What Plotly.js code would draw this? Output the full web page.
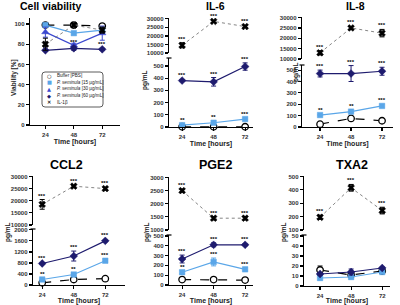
<!DOCTYPE html>
<html><head><meta charset="utf-8">
<script src="https://cdn.plot.ly/plotly-3.0.1.min.js"></script>
<style>html,body{margin:0;padding:0;background:#fff}#chart{width:400px;height:305px}</style>
</head><body><div id="chart"></div>
<script>
// ---------- DATA ----------
const times = [24, 48, 72];
const timeLabels = ['24', '48', '72'];
const seriesNames = ['Buffer [PBS]', 'P. seminula [15 µg/mL]', 'P. seminula [30 µg/mL]', 'P. seminula [60 µg/mL]', 'IL-1β'];

// Cell viability [%]
const viabBuffer = [99, 99, 98];
const viab15 = [99, 91, 94];
const viab30 = [92, 79, 91];
const viab30Err = [5, 2, 7];
const viab60 = [74, 76, 75];
const viab60Err = [1, 2, 1];
const viabIL1b = [80, 99, 94];
const viabIL1bErr = [6, 2, 3];
const viabSig60 = ['', '***', '***'];

// IL-6 [pg/mL]
const il6Buffer = [2, 2, 2];
const il6_15 = [15, 35, 65];
const il6_15Err = [3, 5, 8];
const il6_60 = [380, 370, 495];
const il6_60Err = [8, 35, 30];
const il6IL1b = [14500, 28500, 25500];
const il6IL1bErr = [1500, 600, 500];
const il6Sig15 = ['**', '**', '***'];
const il6Sig60 = ['***', '***', '***'];
const il6SigIL1b = ['***', '***', '***'];

// IL-8 [pg/mL]
const il8Buffer = [25, 75, 55];
const il8_15 = [105, 135, 185];
const il8_15Err = [5, 8, 10];
const il8_60 = [470, 470, 490];
const il8_60Err = [30, 70, 35];
const il8IL1b = [13000, 25000, 22500];
const il8IL1bErr = [1000, 700, 1800];
const il8Sig15 = ['**', '**', '***'];
const il8Sig60 = ['***', '***', '***'];
const il8SigIL1b = ['***', '***', '***'];

// CCL2 [pg/mL]
const ccl2Buffer = [80, 200, 230];
const ccl2_15 = [200, 380, 880];
const ccl2_15Err = [20, 30, 30];
const ccl2_60 = [780, 1050, 1600];
const ccl2_60Err = [30, 180, 30];
const ccl2IL1b = [18500, 26000, 25000];
const ccl2IL1bErr = [2000, 400, 600];
const ccl2Sig15 = ['**', '**', '***'];
const ccl2Sig60 = ['***', '***', '***'];
const ccl2SigIL1b = ['***', '***', '***'];

// PGE2 [pg/mL]
const pge2Buffer = [55, 55, 50];
const pge2_15 = [130, 235, 160];
const pge2_15Err = [15, 40, 15];
const pge2_60 = [265, 410, 410];
const pge2_60Err = [40, 20, 10];
const pge2IL1b = [2500, 1450, 1450];
const pge2IL1bErr = [60, 60, 60];
const pge2Sig15 = ['**', '***', '***'];
const pge2Sig60 = ['***', '***', '***'];
const pge2SigIL1b = ['***', '***', '***'];

// TXA2 [pg/mL]
const txa2Buffer = [16, 11, 15];
const txa2BufferErr = [4, 1, 1];
const txa2_15 = [8, 9, 14];
const txa2_15Err = [2, 2, 1];
const txa2_60 = [12, 14, 18];
const txa2_60Err = [1, 3, 1];
const txa2IL1b = [195, 415, 245];
const txa2IL1bErr = [15, 25, 25];
const txa2SigIL1b = ['***', '***', '***'];

// ---------- STYLE ----------
const W = 400, H = 305;
const FONT = 'Liberation Sans, Arial, sans-serif';
const styles = {
  buffer: {name: seriesNames[0], color: '#000000', fill: '#ffffff', symbol: 'circle', size: 6.5, dash: 'dash', lw: 1.2, lc: '#000000'},
  c15:    {name: seriesNames[1], color: '#5AA6E8', fill: '#5AA6E8', symbol: 'square', size: 5.5, dash: 'solid', lw: 1.2, lc: '#5AA6E8'},
  c30:    {name: seriesNames[2], color: '#3B48CF', fill: '#3B48CF', symbol: 'triangle-up', size: 6.5, dash: 'solid', lw: 1.2, lc: '#3B48CF'},
  c60:    {name: seriesNames[3], color: '#1E1B6E', fill: '#1E1B6E', symbol: 'diamond', size: 6, dash: 'solid', lw: 1.2, lc: '#1E1B6E'},
  il1b:   {name: seriesNames[4], color: '#000000', fill: '#000000', symbol: 'x', size: 6, dash: 'dot', lw: 0.9, lc: '#777777'}
};

const panels = [
  {title: 'Cell viability', tsize: 10.5, tx: 50, ty: 6.5, ytitle: 'Viability [%]', ytx: 14, yty: 78, xdom: [30, 120], xr: [11, 87],
   low: {dom: [18, 125], r: [0, 106], dtick: 20}, up: null,
   series: [['buffer', viabBuffer, null, null], ['c15', viab15, null, null], ['c30', viab30, viab30Err, null], ['c60', viab60, viab60Err, viabSig60], ['il1b', viabIL1b, viabIL1bErr, null]]},
  {title: 'IL-6', tsize: 10.5, tx: 215, ty: 6, ytitle: 'pg/mL', ytx: 145, yty: 80, xdom: [169, 253], xr: [14, 78],
   low: {dom: [58, 127], r: [0, 565], dtick: 100}, up: {dom: [18, 53], r: [10000, 30500], dtick: 5000},
   series: [['buffer', il6Buffer, null, null], ['c15', il6_15, il6_15Err, il6Sig15], ['c60', il6_60, il6_60Err, il6Sig60], ['il1b', il6IL1b, il6IL1bErr, il6SigIL1b]]},
  {title: 'IL-8', tsize: 10.5, tx: 355, ty: 6, ytitle: 'pg/mL', ytx: 296, yty: 72, xdom: [302, 393], xr: [10, 80.5],
   low: {dom: [65, 127], r: [0, 545], dtick: 100}, up: {dom: [17, 59], r: [10000, 30300], dtick: 5000},
   series: [['buffer', il8Buffer, null, null], ['c15', il8_15, il8_15Err, il8Sig15], ['c60', il8_60, il8_60Err, il8Sig60], ['il1b', il8IL1b, il8IL1bErr, il8SigIL1b]]},
  {title: 'CCL2', tsize: 12.5, tx: 66, ty: 165, ytitle: 'pg/mL', ytx: 8, yty: 232, xdom: [33, 125], xr: [17, 87],
   low: {dom: [229, 285], r: [0, 2030], dtick: 400}, up: {dom: [176, 225], r: [10000, 30200], dtick: 5000},
   series: [['buffer', ccl2Buffer, null, null], ['c15', ccl2_15, ccl2_15Err, ccl2Sig15], ['c60', ccl2_60, ccl2_60Err, ccl2Sig60], ['il1b', ccl2IL1b, ccl2IL1bErr, ccl2SigIL1b]]},
  {title: 'PGE2', tsize: 12.5, tx: 215, ty: 165, ytitle: 'pg/mL', ytx: 147, yty: 232, xdom: [169, 253], xr: [14, 78],
   low: {dom: [235, 285], r: [0, 510], dtick: 100}, up: {dom: [177, 230], r: [1000, 3020], dtick: 500},
   series: [['buffer', pge2Buffer, null, null], ['c15', pge2_15, pge2_15Err, pge2Sig15], ['c60', pge2_60, pge2_60Err, pge2Sig60], ['il1b', pge2IL1b, pge2IL1bErr, pge2SigIL1b]]},
  {title: 'TXA2', tsize: 12.5, tx: 352, ty: 165, ytitle: 'pg/mL', ytx: 284, yty: 232, xdom: [304, 390], xr: [11.6, 78],
   low: {dom: [235, 286], r: [0, 51], dtick: 10}, up: {dom: [176, 230], r: [100, 503], dtick: 100},
   series: [['buffer', txa2Buffer, txa2BufferErr, null], ['c15', txa2_15, txa2_15Err, null], ['c60', txa2_60, txa2_60Err, null], ['il1b', txa2IL1b, txa2IL1bErr, txa2SigIL1b]]}
];

const fx = px => px / W;
const fy = py => 1 - py / H;
const tickFont = {family: FONT, size: 6, color: '#333333', weight: 'bold'};

const layout = {
  width: W, height: H, margin: {l: 0, r: 0, t: 0, b: 0},
  paper_bgcolor: '#ffffff', plot_bgcolor: 'rgba(0,0,0,0)',
  showlegend: false, annotations: [], shapes: [], font: {family: FONT}
};
const traces = [];

function axisBase() {
  return {showline: true, linecolor: '#000000', linewidth: 1.3, ticks: 'outside', ticklen: 3, tickwidth: 1.2,
          tickcolor: '#000000', tickfont: tickFont, showgrid: false, zeroline: false, fixedrange: true};
}
function breakCap(xPx, yPx) {
  layout.shapes.push({type: 'line', xref: 'paper', yref: 'paper', x0: fx(xPx - 2.5), x1: fx(xPx + 2.5), y0: fy(yPx), y1: fy(yPx),
    line: {color: '#000', width: 1.2}});
}

let yCount = 0;
panels.forEach((p, i) => {
  const xi = i + 1;
  const xid = 'x' + xi;
  const lowIdx = ++yCount;
  const lowId = 'y' + lowIdx;
  let upId = null, upIdx = null;
  if (p.up) { upIdx = ++yCount; upId = 'y' + upIdx; }

  layout['xaxis' + xi] = Object.assign(axisBase(), {
    domain: [fx(p.xdom[0]), fx(p.xdom[1])], range: p.xr, tickvals: times, ticktext: timeLabels,
    anchor: lowId,
    title: {text: 'Time [hours]', font: {family: FONT, size: 7, color: '#222', weight: 'bold'}, standoff: 2}
  });
  layout['yaxis' + lowIdx] = Object.assign(axisBase(), {
    domain: [fy(p.low.dom[1]), fy(p.low.dom[0])], range: p.low.r, tick0: 0, dtick: p.low.dtick,
    tickformat: 'd', anchor: xid
  });
  if (p.up) {
    layout['yaxis' + upIdx] = Object.assign(axisBase(), {
      domain: [fy(p.up.dom[1]), fy(p.up.dom[0])], range: p.up.r, tick0: p.up.r[0], dtick: p.up.dtick,
      tickformat: 'd', anchor: xid
    });
    breakCap(p.xdom[0], p.low.dom[0]);
  }

  p.series.forEach(([key, vals, err, sig]) => {
    const st = styles[key];
    const useUp = (key === 'il1b' && p.up);
    const yid = useUp ? upId : lowId;
    const ax = useUp ? p.up : p.low;
    const t = {
      type: 'scatter', mode: 'lines+markers', x: times, y: vals, name: st.name,
      xaxis: xid, yaxis: yid, cliponaxis: false,
      line: {color: st.lc, width: st.lw, dash: st.dash},
      marker: {symbol: st.symbol, size: st.size, color: st.fill, line: {color: st.color, width: key === 'buffer' ? 1.3 : 0.5}}
    };
    if (err) t.error_y = {type: 'data', array: err, visible: true, color: st.color, thickness: 1, width: 2.5};
    traces.push(t);
    if (sig) {
      const pxPerUnit = (ax.dom[1] - ax.dom[0]) / (ax.r[1] - ax.r[0]);
      sig.forEach((s, k) => {
        if (!s) return;
        const e = err ? err[k] * pxPerUnit : 0;
        layout.annotations.push({x: times[k], y: vals[k], xref: xid, yref: yid, text: s, showarrow: false,
          yanchor: 'bottom', borderpad: 0, yshift: Math.max(e, 1.5), font: {family: FONT, size: 6, color: '#000', weight: 'bold'}});
      });
    }
  });

  // panel title
  layout.annotations.push({x: fx(p.tx), y: fy(p.ty), xref: 'paper', yref: 'paper', text: '<b>' + p.title + '</b>',
    showarrow: false, xanchor: 'center', yanchor: 'middle', borderpad: 0, font: {family: FONT, size: p.tsize, color: '#000'}});
  // y title
  layout.annotations.push({x: fx(p.ytx), y: fy(p.yty), xref: 'paper', yref: 'paper', text: '<b>' + p.ytitle + '</b>',
    showarrow: false, textangle: -90, xanchor: 'center', yanchor: 'middle', font: {family: FONT, size: 6.5, color: '#222'}});
});

// ---------- manual legend (cell viability panel) ----------
const lg = {x0: 42, x1: 103, y0: 72, y1: 107, r: 3};
const L = v => fx(v), T = v => fy(v);
layout.shapes.push({type: 'path', xref: 'paper', yref: 'paper',
  path: `M ${L(lg.x0 + lg.r)} ${T(lg.y0)} L ${L(lg.x1 - lg.r)} ${T(lg.y0)} Q ${L(lg.x1)} ${T(lg.y0)} ${L(lg.x1)} ${T(lg.y0 + lg.r)} ` +
        `L ${L(lg.x1)} ${T(lg.y1 - lg.r)} Q ${L(lg.x1)} ${T(lg.y1)} ${L(lg.x1 - lg.r)} ${T(lg.y1)} L ${L(lg.x0 + lg.r)} ${T(lg.y1)} ` +
        `Q ${L(lg.x0)} ${T(lg.y1)} ${L(lg.x0)} ${T(lg.y1 - lg.r)} L ${L(lg.x0)} ${T(lg.y0 + lg.r)} Q ${L(lg.x0)} ${T(lg.y0)} ${L(lg.x0 + lg.r)} ${T(lg.y0)} Z`,
  line: {color: '#333', width: 0.8}, fillcolor: '#ffffff', layer: 'above'});
const legendGlyphs = [['○', '#000'], ['■', styles.c15.color], ['▲', styles.c30.color], ['◆', styles.c60.color], ['✕', '#000']];
const legendTexts = ['Buffer [PBS]', '<i>P. seminula</i> [15 µg/mL]', '<i>P. seminula</i> [30 µg/mL]', '<i>P. seminula</i> [60 µg/mL]', 'IL-1β'];
legendTexts.forEach((txt, k) => {
  const yy = 75.7 + k * 6.65;
  layout.annotations.push({x: fx(49), y: fy(yy), xref: 'paper', yref: 'paper', text: '<b>' + legendGlyphs[k][0] + '</b>', showarrow: false,
    xanchor: 'center', yanchor: 'middle', borderpad: 0, font: {family: 'DejaVu Sans', size: 5.2, color: legendGlyphs[k][1]}});
  layout.annotations.push({x: fx(55.5), y: fy(yy), xref: 'paper', yref: 'paper', text: txt, showarrow: false,
    xanchor: 'left', yanchor: 'middle', borderpad: 0, font: {family: FONT, size: 4.6, color: '#222'}});
});

Plotly.newPlot('chart', traces, layout, {staticPlot: true, displayModeBar: false});
</script>
</body></html>
